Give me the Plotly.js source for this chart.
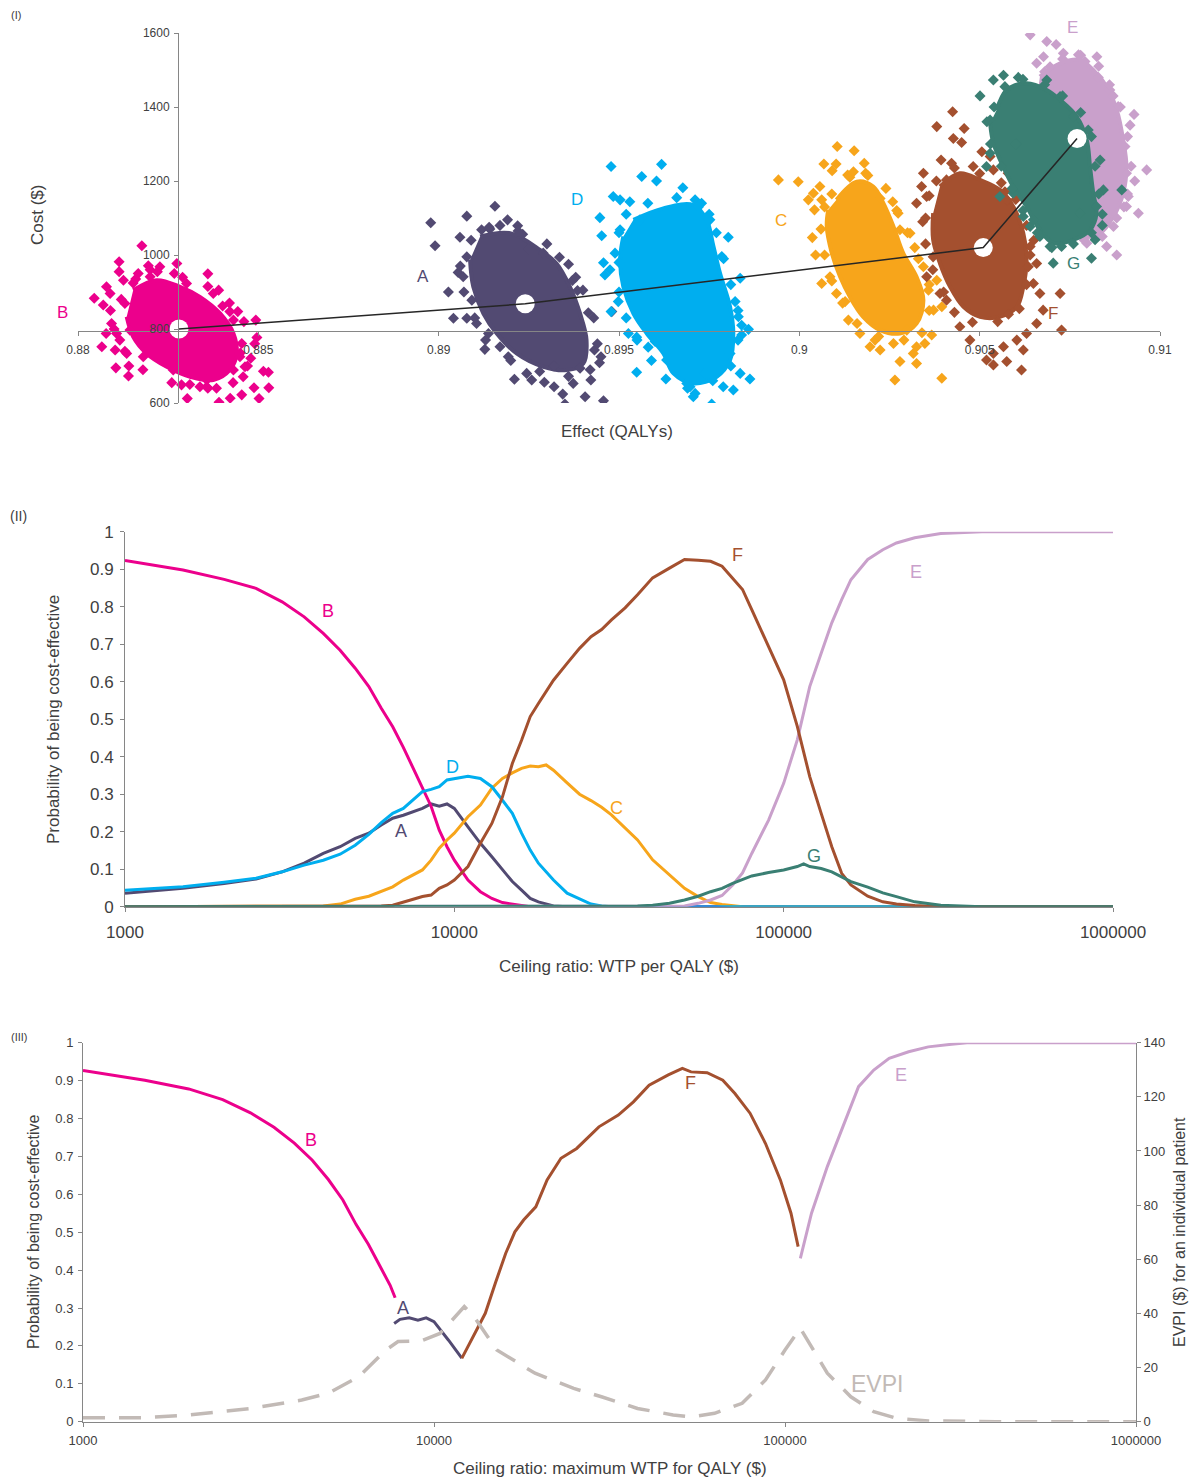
<!DOCTYPE html>
<html><head><meta charset="utf-8">
<script src="https://cdn.plot.ly/plotly-3.0.1.min.js"></script>
<style>html,body{margin:0;padding:0;background:#fff}</style>
</head><body><div id="chart" style="width:1189px;height:1481px"></div>
<script>
// ---------- Panel I: cost-effectiveness plane (QALY, cost) ----------
const cloudB_core=[[0.88153,905],[0.88218,932],[0.88283,914],[0.88338,887],[0.88394,842],[0.88431,788],[0.88440,734],[0.88421,689],[0.88375,662],[0.88311,671],[0.88246,698],[0.88190,734],[0.88153,779],[0.88135,833]];
const cloudB_pts=[[0.88045,883],[0.88066,752],[0.88078,788],[0.88070,865],[0.88089,896],[0.88103,743],[0.88105,695],[0.88140,673],[0.88141,700],[0.88114,982],[0.88114,955],[0.88177,1025],[0.88195,971],[0.88274,977],[0.88267,950],[0.88360,949],[0.88401,862],[0.88421,847],[0.88443,847],[0.88493,824],[0.88496,777],[0.88479,721],[0.88514,686],[0.88528,683],[0.88529,641],[0.88502,612],[0.88488,641],[0.88454,622],[0.88422,613],[0.88391,602],[0.88357,644],[0.88303,612],[0.88287,649],[0.88107,788],[0.88093,815],[0.88079,914],[0.88126,932],[0.88227,968],[0.88338,644],[0.88384,640],[0.88458,671],[0.88463,698],[0.88449,725],[0.88135,734],[0.88116,770],[0.88167,950],[0.88153,924],[0.88200,941],[0.88301,923],[0.88375,896],[0.88431,824],[0.88454,761],[0.88431,689],[0.88357,662],[0.88264,689],[0.88181,725],[0.88144,797],[0.88130,869]];
const cloudB_edge=[[0.8812,880],[0.8816,935],[0.8822,955],[0.8829,940],[0.8836,915],[0.8842,870],[0.8846,820],[0.8849,760],[0.8847,700],[0.8843,655],[0.8836,640],[0.8826,655],[0.8818,690],[0.8813,740],[0.8810,800],[0.8809,850],[0.8820,960],[0.8839,905],[0.8845,735],[0.8831,650]];
const cloudA_core=[[0.89115,1050],[0.89198,1059],[0.89281,1014],[0.89327,977],[0.89364,914],[0.89392,842],[0.89410,770],[0.89401,707],[0.89355,689],[0.89290,698],[0.89216,734],[0.89161,788],[0.89124,842],[0.89096,914],[0.89087,987]];
const cloudA_pts=[[0.88978,1087],[0.88990,1025],[0.89078,1105],[0.89156,1132],[0.89059,1048],[0.89054,953],[0.89027,900],[0.89041,829],[0.89078,829],[0.89128,745],[0.89105,815],[0.89119,1068],[0.89142,1070],[0.89191,1095],[0.89219,1079],[0.89233,1056],[0.89249,1016],[0.89290,1005],[0.89335,994],[0.89371,931],[0.89385,904],[0.89415,844],[0.89432,743],[0.89446,709],[0.89422,662],[0.89406,617],[0.89457,606],[0.89350,597],[0.89344,624],[0.89320,644],[0.89293,656],[0.89258,662],[0.89210,664],[0.89193,725],[0.89244,680],[0.89373,653],[0.89392,694],[0.89480,847],[0.89078,995],[0.89068,941],[0.89092,878],[0.89138,788],[0.89170,752]];
const cloudA_edge=[[0.8909,1040],[0.8914,1075],[0.8922,1065],[0.8930,1030],[0.8936,975],[0.8940,905],[0.8943,830],[0.8944,760],[0.8942,690],[0.8936,672],[0.8928,685],[0.8920,715],[0.8913,770],[0.8910,830],[0.8907,900],[0.8906,970],[0.8938,940],[0.8917,1080],[0.8945,725],[0.8932,700]];
const cloudC_core=[[0.90103,1149],[0.90159,1198],[0.90205,1185],[0.90233,1140],[0.90261,1077],[0.90288,1005],[0.90325,941],[0.90344,878],[0.90325,815],[0.90279,788],[0.90224,797],[0.90177,833],[0.90140,887],[0.90113,941],[0.90090,1005],[0.90076,1077],[0.90080,1122]];
const cloudC_pts=[[0.89942,1203],[0.89997,1198],[0.90105,1293],[0.90152,1282],[0.90068,1246],[0.90102,1246],[0.90091,1228],[0.90134,1216],[0.90180,1248],[0.90184,1221],[0.90039,1167],[0.90025,1149],[0.90062,1149],[0.90042,1122],[0.90036,1047],[0.90045,1000],[0.90062,923],[0.90103,896],[0.90085,941],[0.90259,1144],[0.90224,1153],[0.90279,1068],[0.90274,1113],[0.90307,1059],[0.90344,968],[0.90381,932],[0.90395,860],[0.90372,851],[0.90367,784],[0.90348,761],[0.90325,752],[0.90316,734],[0.90279,712],[0.90265,662],[0.90395,667],[0.90325,707],[0.90224,743],[0.90196,752],[0.90168,788],[0.90136,824],[0.90127,874],[0.90298,797],[0.90261,761],[0.90210,770],[0.90358,905],[0.90057,1185]];
const cloudC_edge=[[0.9009,1165],[0.9014,1210],[0.9019,1215],[0.9024,1180],[0.9027,1120],[0.9030,1060],[0.9033,990],[0.9036,920],[0.9036,850],[0.9034,790],[0.9029,770],[0.9022,780],[0.9016,815],[0.9012,870],[0.9009,930],[0.9007,1000],[0.9006,1070],[0.9007,1130],[0.9032,1020],[0.9015,1225]];
const cloudD_core=[[0.89540,1095],[0.89623,1126],[0.89706,1135],[0.89743,1095],[0.89762,1023],[0.89780,951],[0.89808,860],[0.89817,788],[0.89808,716],[0.89771,671],[0.89706,653],[0.89651,680],[0.89623,734],[0.89577,788],[0.89540,842],[0.89512,914],[0.89503,987],[0.89512,1050]];
const cloudD_pts=[[0.89478,1239],[0.89618,1245],[0.89563,1212],[0.89604,1200],[0.89677,1182],[0.89484,1158],[0.89503,1149],[0.89530,1144],[0.89711,1149],[0.89729,1140],[0.89447,1101],[0.89452,1052],[0.89457,979],[0.89461,946],[0.89498,874],[0.89478,847],[0.89526,788],[0.89549,778],[0.89581,751],[0.89549,683],[0.89600,766],[0.89632,716],[0.89688,653],[0.89711,626],[0.89757,597],[0.89738,680],[0.89789,644],[0.89817,635],[0.89836,680],[0.89863,665],[0.89859,799],[0.89840,784],[0.89831,833],[0.89836,937],[0.89803,1048],[0.89752,1095],[0.89785,996],[0.89822,874],[0.89558,1095],[0.89503,1068],[0.89489,1005],[0.89475,960],[0.89706,617],[0.89697,644],[0.89808,734]];
const cloudD_edge=[[0.8952,1110],[0.8958,1140],[0.8966,1155],[0.8972,1130],[0.8977,1060],[0.8979,990],[0.8981,920],[0.8983,850],[0.8983,770],[0.8981,700],[0.8976,660],[0.8969,640],[0.8963,665],[0.8959,715],[0.8955,770],[0.8952,830],[0.8950,900],[0.8950,980],[0.8950,1060],[0.8975,1110],[0.8984,810],[0.8957,1000]];
const cloudE_core=[[0.90667,1482],[0.90723,1518],[0.90778,1527],[0.90815,1500],[0.90852,1455],[0.90880,1392],[0.90898,1311],[0.90907,1239],[0.90898,1167],[0.90871,1104],[0.90834,1059],[0.90788,1050],[0.90751,1077],[0.90723,1149],[0.90695,1239],[0.90677,1329],[0.90658,1419]];
const cloudE_pts=[[0.90640,1595],[0.90686,1577],[0.90712,1569],[0.90677,1536],[0.90658,1518],[0.90732,1545],[0.90774,1541],[0.90792,1523],[0.90829,1480],[0.90861,1446],[0.90884,1401],[0.90928,1380],[0.90917,1351],[0.90903,1293],[0.90907,1221],[0.90963,1230],[0.90912,1158],[0.90940,1113],[0.90871,1077],[0.90880,1000],[0.90852,1023],[0.90797,1032],[0.90778,1059],[0.90907,1131],[0.90825,1536],[0.90695,1509]];
const cloudE_edge=[[0.9068,1495],[0.9073,1530],[0.9078,1540],[0.9083,1510],[0.9086,1460],[0.9089,1400],[0.9091,1320],[0.9092,1240],[0.9091,1165],[0.9088,1100],[0.9084,1050],[0.9079,1040],[0.9093,1200],[0.9090,1130],[0.9087,1430]];
const cloudF_core=[[0.90390,1185],[0.90445,1221],[0.90501,1203],[0.90556,1176],[0.90593,1131],[0.90621,1059],[0.90630,987],[0.90621,914],[0.90603,860],[0.90556,833],[0.90501,833],[0.90455,860],[0.90418,914],[0.90390,977],[0.90371,1041],[0.90371,1113]];
const cloudF_pts=[[0.90425,1387],[0.90381,1347],[0.90457,1342],[0.90427,1315],[0.90450,1304],[0.90393,1257],[0.90422,1248],[0.90344,1221],[0.90339,1185],[0.90353,1158],[0.90325,1140],[0.90342,1090],[0.90408,1203],[0.90482,1239],[0.90506,1279],[0.90529,1266],[0.90538,1230],[0.90579,1221],[0.90570,1171],[0.90575,1149],[0.90640,1023],[0.90635,968],[0.90658,977],[0.90649,923],[0.90667,896],[0.90676,851],[0.90723,896],[0.90727,797],[0.90658,815],[0.90630,788],[0.90603,770],[0.90566,752],[0.90538,734],[0.90519,716],[0.90538,703],[0.90575,712],[0.90616,689],[0.90473,770],[0.90445,806],[0.90408,878],[0.90390,896],[0.90353,941],[0.90371,995],[0.90621,743]];
const cloudF_edge=[[0.9038,1200],[0.9043,1235],[0.9050,1220],[0.9056,1195],[0.9060,1150],[0.9063,1080],[0.9064,1000],[0.9063,920],[0.9061,855],[0.9055,820],[0.9048,818],[0.9043,845],[0.9040,900],[0.9037,960],[0.9035,1030],[0.9035,1100],[0.9036,1160],[0.9065,1040],[0.9058,840]];
const cloudG_core=[[0.90547,1392],[0.90575,1446],[0.90630,1464],[0.90686,1446],[0.90723,1419],[0.90769,1374],[0.90797,1311],[0.90806,1239],[0.90815,1167],[0.90824,1113],[0.90806,1068],[0.90760,1041],[0.90704,1032],[0.90667,1068],[0.90630,1131],[0.90593,1185],[0.90565,1239],[0.90538,1302],[0.90529,1356]];
const cloudG_pts=[[0.90538,1473],[0.90566,1486],[0.90607,1480],[0.90501,1430],[0.90529,1365],[0.90519,1239],[0.90529,1275],[0.90556,1158],[0.90593,1167],[0.90621,1104],[0.90640,1077],[0.90695,1023],[0.90704,978],[0.90810,991],[0.90820,1041],[0.90843,1176],[0.90894,1176],[0.90834,1257],[0.90801,1338],[0.90760,1374],[0.90686,1473],[0.90723,1428],[0.90778,1113],[0.90824,1131],[0.90667,1050],[0.90727,1023],[0.90649,1095]];
const cloudG_edge=[[0.9054,1400],[0.9057,1455],[0.9062,1475],[0.9068,1460],[0.9073,1430],[0.9078,1385],[0.9081,1320],[0.9082,1240],[0.9083,1165],[0.9084,1110],[0.9081,1060],[0.9076,1030],[0.9070,1020],[0.9066,1060],[0.9062,1120],[0.9059,1180],[0.9056,1240],[0.9053,1300],[0.9052,1360],[0.9084,1080],[0.9060,1300]];
// efficient frontier: B, A, F, E (mean effect, mean cost)
const frontierQALY=[0.8828,0.8924,0.9051,0.9077];
const frontierCost=[800,868,1020,1315];

// ---------- Panel II: CEACs ----------
const wtp=[1000,1500,2000,2500,3000,3500,4000,4500,5000,5500,6000,6500,7000,7500,8000,8500,9000,9500,10000,11000,12000,13000,14000,15000,16000,17000,18000,19000,20000,22000,24000,26000,28000,30000,33000,36000,40000,45000,50000,55000,60000,65000,70000,75000,80000,90000,100000,110000,115000,120000,130000,140000,150000,160000,180000,200000,220000,250000,300000,350000,400000,500000,700000,1000000];
const probA=[0.036,0.049,0.062,0.074,0.093,0.116,0.142,0.16,0.182,0.196,0.218,0.236,0.244,0.253,0.262,0.274,0.268,0.274,0.262,0.213,0.169,0.133,0.098,0.067,0.044,0.022,0.013,0.007,0.002,0,0,0,0,0,0,0,0,0,0,0,0,0,0,0,0,0,0,0,0,0,0,0,0,0,0,0,0,0,0,0,0,0,0,0];
const probB=[0.923,0.898,0.873,0.849,0.813,0.773,0.729,0.684,0.636,0.587,0.529,0.48,0.425,0.37,0.318,0.268,0.204,0.16,0.124,0.071,0.04,0.022,0.011,0.007,0.002,0,0,0,0,0,0,0,0,0,0,0,0,0,0,0,0,0,0,0,0,0,0,0,0,0,0,0,0,0,0,0,0,0,0,0,0,0,0,0];
const probC=[0,0,0,0,0,0,0.002,0.007,0.02,0.028,0.04,0.053,0.071,0.084,0.098,0.124,0.156,0.178,0.196,0.24,0.271,0.316,0.342,0.357,0.369,0.375,0.373,0.378,0.364,0.33,0.3,0.283,0.265,0.245,0.209,0.178,0.125,0.085,0.049,0.027,0.011,0.006,0.003,0,0,0,0,0,0,0,0,0,0,0,0,0,0,0,0,0,0,0,0,0];
const probD=[0.044,0.053,0.065,0.076,0.093,0.111,0.124,0.14,0.164,0.193,0.224,0.249,0.262,0.284,0.307,0.313,0.32,0.338,0.342,0.348,0.342,0.32,0.284,0.249,0.196,0.151,0.116,0.093,0.071,0.036,0.02,0.007,0.002,0,0,0,0,0,0,0,0,0,0,0,0,0,0,0,0,0,0,0,0,0,0,0,0,0,0,0,0,0,0,0];
const probE=[0,0,0,0,0,0,0,0,0,0,0,0,0,0,0,0,0,0,0,0,0,0,0,0,0,0,0,0,0,0,0,0,0,0,0,0,0,0,0.002,0.009,0.018,0.03,0.058,0.09,0.142,0.231,0.329,0.445,0.52,0.587,0.676,0.757,0.819,0.872,0.926,0.952,0.97,0.984,0.995,0.997,1,1,1,1];
const probF=[0,0,0,0,0,0,0,0,0,0,0.002,0.004,0.013,0.02,0.027,0.031,0.049,0.058,0.071,0.107,0.169,0.222,0.293,0.382,0.444,0.507,0.542,0.573,0.604,0.649,0.689,0.72,0.739,0.765,0.797,0.832,0.877,0.903,0.926,0.924,0.921,0.908,0.877,0.846,0.792,0.694,0.605,0.481,0.41,0.347,0.249,0.16,0.089,0.058,0.028,0.013,0.007,0.003,0,0,0,0,0,0];
const probG=[0,0,0,0,0,0,0,0,0,0,0,0,0,0,0,0,0,0,0,0,0,0,0,0,0,0,0,0,0,0,0,0,0,0,0,0.002,0.004,0.009,0.018,0.028,0.04,0.049,0.062,0.073,0.082,0.091,0.098,0.107,0.114,0.107,0.102,0.093,0.08,0.067,0.052,0.037,0.027,0.013,0.004,0.001,0,0,0,0];
const wtpTicks=[1000,10000,100000,1000000];
const wtpTickText=['1000','10000','100000','1000000'];

// ---------- Panel III: CEAF and EVPI ----------
const ceafB_wtp=[1000,1500,2000,2500,3000,3500,4000,4500,5000,5500,6000,6500,7000,7500,7750];
const ceafB_prob=[0.927,0.901,0.878,0.85,0.815,0.777,0.735,0.69,0.639,0.585,0.52,0.468,0.412,0.36,0.327];
const ceafA_wtp=[7700,8000,8500,9000,9500,10000,11000,12000];
const ceafA_prob=[0.259,0.27,0.274,0.268,0.274,0.264,0.215,0.168];
const ceafF_wtp=[12000,13000,14000,15000,16000,17000,18000,19500,21000,23000,25500,29500,33500,37000,41000,46500,51000,54000,60000,66500,72000,79500,88000,97000,104000,109000];
const ceafF_prob=[0.167,0.229,0.286,0.369,0.444,0.501,0.532,0.567,0.638,0.695,0.721,0.778,0.809,0.844,0.888,0.915,0.932,0.923,0.921,0.901,0.866,0.814,0.734,0.638,0.55,0.462];
const ceafE_wtp=[110600,119000,132000,146000,162000,179000,198000,225000,256000,298000,330000,500000,1000000];
const ceafE_prob=[0.431,0.55,0.673,0.778,0.884,0.928,0.959,0.976,0.989,0.996,1,1,1];
const evpi_wtp=[1000,1500,2000,3000,4200,5000,6100,7300,7900,9200,10400,11500,12200,13000,15100,19400,25000,30000,38000,48000,54000,63000,75500,88000,100000,110600,119000,132000,154000,179000,209000,256000,400000,1000000];
const evpi_value=[1.5,1.5,2.5,4.9,8.0,10.5,16.6,26.5,29.6,29.9,32.6,38.8,42.5,38.8,26.5,17.9,12.3,9.2,4.9,2.5,1.8,3.1,6.8,15.4,26.5,34.5,27.7,17.9,9.2,3.7,1.2,0.3,0,0];

// ---------- styling ----------
const FONT='"Liberation Sans", Arial, sans-serif';
const TXT='#404040';
const AX='#868686';
const col={A:'#524A72',B:'#EC008C',C:'#F7A51B',D:'#00AEEF',E:'#C9A0CB',F:'#A4502F',G:'#3A7F73',EVPI:'#C2BAB6'};

const traces=[];
function cloud(core,pts,edge,c){
  traces.push({type:'scatter',mode:'lines',x:core.map(p=>p[0]),y:core.map(p=>p[1]),fill:'toself',fillcolor:c,
    line:{color:c,width:4,shape:'spline'},xaxis:'x',yaxis:'y',hoverinfo:'skip',showlegend:false});
  const all=pts.concat(edge);
  traces.push({type:'scatter',mode:'markers',x:all.map(p=>p[0]),y:all.map(p=>p[1]),
    marker:{symbol:'diamond',size:8.5,color:c,line:{width:0}},xaxis:'x',yaxis:'y',hoverinfo:'skip',showlegend:false});
}
cloud(cloudA_core,cloudA_pts,cloudA_edge,col.A);
cloud(cloudB_core,cloudB_pts,cloudB_edge,col.B);
cloud(cloudC_core,cloudC_pts,cloudC_edge,col.C);
cloud(cloudD_core,cloudD_pts,cloudD_edge,col.D);
cloud(cloudE_core,cloudE_pts,cloudE_edge,col.E);
cloud(cloudF_core,cloudF_pts,cloudF_edge,col.F);
cloud(cloudG_core,cloudG_pts,cloudG_edge,col.G);
traces.push({type:'scatter',mode:'markers',x:frontierQALY,y:frontierCost,marker:{size:19,color:'#ffffff',line:{width:0}},xaxis:'x',yaxis:'y',showlegend:false});
traces.push({type:'scatter',mode:'lines',x:frontierQALY,y:frontierCost,line:{color:'#262626',width:1.5},xaxis:'x',yaxis:'y',showlegend:false});

const ceac=[['A',probA],['B',probB],['C',probC],['D',probD],['E',probE],['F',probF],['G',probG]];
ceac.forEach(([k,v])=>traces.push({type:'scatter',mode:'lines',x:wtp,y:v,line:{color:col[k],width:3},xaxis:'x2',yaxis:'y2',showlegend:false}));

traces.push({type:'scatter',mode:'lines',x:evpi_wtp,y:evpi_value,line:{color:col.EVPI,width:3.5,dash:'22px,14px'},xaxis:'x3',yaxis:'y4',showlegend:false});
[['B',ceafB_wtp,ceafB_prob],['A',ceafA_wtp,ceafA_prob],['F',ceafF_wtp,ceafF_prob],['E',ceafE_wtp,ceafE_prob]].forEach(([k,x,y])=>
  traces.push({type:'scatter',mode:'lines',x:x,y:y,line:{color:col[k],width:3},xaxis:'x3',yaxis:'y3',showlegend:false}));

const W=1189,H=1481;
function ann(text,px,py,size,color,angle){
  return {text:text,x:px/W,y:1-py/H,xref:'paper',yref:'paper',showarrow:false,xanchor:'center',yanchor:'middle',
    textangle:angle||0,font:{family:FONT,size:size,color:color||TXT}};
}
const baseAx={showgrid:false,zeroline:false,showline:true,linecolor:AX,linewidth:1,ticks:'outside',ticklen:4,tickcolor:AX,tickfont:{family:FONT,color:TXT}};

const layout={
  width:W,height:H,margin:{l:0,r:0,t:0,b:0},paper_bgcolor:'#fff',plot_bgcolor:'rgba(0,0,0,0)',showlegend:false,
  font:{family:FONT,color:TXT},
  xaxis:Object.assign({},baseAx,{domain:[78/W,1160/W],range:[0.88,0.91],anchor:'free',position:1-331/H,tick0:0.88,dtick:0.005,ticklabelstandoff:4,tickfont:{family:FONT,size:12,color:TXT}}),
  yaxis:Object.assign({},baseAx,{domain:[1-403/H,1-33/H],range:[600,1600],anchor:'free',position:178/W,dtick:200,ticklabelstandoff:2,tickfont:{family:FONT,size:12,color:TXT}}),
  xaxis2:Object.assign({},baseAx,{domain:[125/W,1113/W],type:'log',range:[3,6],anchor:'y2',tickvals:wtpTicks,ticktext:wtpTickText,ticklabelstandoff:6,tickfont:{family:FONT,size:17,color:TXT}}),
  yaxis2:Object.assign({},baseAx,{domain:[1-906.7/H,1-531.7/H],range:[0,1],anchor:'x2',dtick:0.1,ticklabelstandoff:3,tickfont:{family:FONT,size:17,color:TXT}}),
  xaxis3:Object.assign({},baseAx,{domain:[83/W,1136/W],type:'log',range:[3,6],anchor:'y3',tickvals:wtpTicks,ticktext:wtpTickText,ticklabelstandoff:3,tickfont:{family:FONT,size:13,color:TXT}}),
  yaxis3:Object.assign({},baseAx,{domain:[1-1421.7/H,1-1042.7/H],range:[0,1],anchor:'x3',dtick:0.1,ticklabelstandoff:2,tickfont:{family:FONT,size:13,color:TXT}}),
  yaxis4:Object.assign({},baseAx,{overlaying:'y3',side:'right',anchor:'x3',range:[0,140],dtick:20,tickfont:{family:FONT,size:13,color:TXT}}),
  annotations:[
    ann('(I)',16,15,11),ann('(II)',18,516,14),ann('(III)',19,1037,11),
    ann('Cost ($)',38,215,17,TXT,-90),ann('Effect (QALYs)',617,431,17),
    ann('B',62,312,17,col.B),ann('A',423,276,17,col.A),ann('D',577,200,17,col.D),ann('C',781,221,17,col.C),
    ann('E',1072,27,17,col.E),ann('G',1073,264,17,col.G),ann('F',1053,313,17,col.F),
    ann('Probability of being cost-effective',53,720,17,TXT,-90),ann('Ceiling ratio: WTP per QALY ($)',619,967,17),
    ann('B',328,611,18,col.B),ann('D',452,767,18,col.D),ann('A',401,831,18,col.A),ann('C',616,808,18,col.C),
    ann('F',737,555,18,col.F),ann('E',916,572,18,col.E),ann('G',814,856,18,col.G),
    ann('Probability of being cost-effective',33,1232,16,TXT,-90),ann('EVPI ($) for an individual patient',1179,1232,16,TXT,-90),
    ann('Ceiling ratio: maximum WTP for QALY ($)',610,1468,17),
    ann('B',311,1140,18,col.B),ann('A',403,1308,18,col.A),ann('F',690,1083,18,col.F),ann('E',901,1075,18,col.E),
    ann('EVPI',877,1384,23,col.EVPI)
  ]
};
Plotly.newPlot('chart',traces,layout,{staticPlot:true,displayModeBar:false});
</script></body></html>
